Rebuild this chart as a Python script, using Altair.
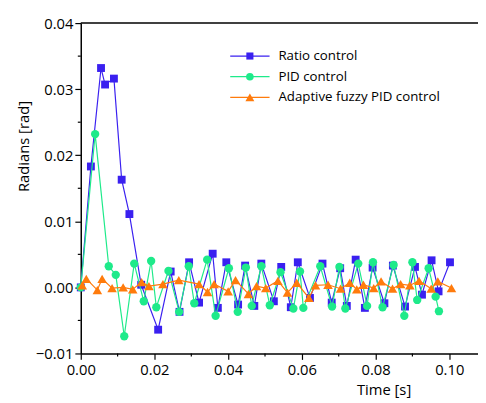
import altair as alt
import pandas as pd

# ---- data ----
ratio_t = [0.0, 0.00275, 0.0055, 0.0066, 0.0090, 0.0111, 0.0132, 0.0164, 0.0210, 0.0244,
           0.0268, 0.0294, 0.0321, 0.0358, 0.0372, 0.0395, 0.0427, 0.0446, 0.0471, 0.0490,
           0.0524, 0.0544, 0.0570, 0.0589, 0.0622, 0.0656, 0.0681, 0.0704, 0.0722, 0.0746,
           0.0771, 0.0792, 0.0824, 0.0847, 0.0880, 0.0907, 0.0926, 0.0952, 0.0971, 0.1002]
ratio_v = [0.0, 0.0183, 0.0332, 0.0307, 0.0316, 0.0163, 0.0111, 0.0004, -0.0064, 0.0024,
           -0.0037, 0.0038, -0.0023, 0.0051, -0.0031, 0.0038, -0.0026, 0.0033, -0.0028, 0.0036,
           -0.0021, 0.0031, -0.0030, 0.0038, -0.0016, 0.0036, -0.0023, 0.0029, -0.0028, 0.0042,
           -0.0031, 0.0030, -0.0024, 0.0033, -0.0029, 0.0031, -0.0011, 0.0041, -0.0006, 0.0038]

pid_t = [0.0, 0.0039, 0.0076, 0.0095, 0.0118, 0.0145, 0.0171, 0.0191, 0.0205, 0.0238,
         0.0267, 0.0293, 0.0308, 0.0343, 0.0366, 0.0402, 0.0426, 0.0448, 0.0464, 0.0490,
         0.0513, 0.0542, 0.0577, 0.0595, 0.0604, 0.0650, 0.0682, 0.0702, 0.0718, 0.0753,
         0.0777, 0.0793, 0.0819, 0.0849, 0.0878, 0.0900, 0.0913, 0.0944, 0.0963, 0.0972]
pid_v = [0.0, 0.0232, 0.0032, 0.0019, -0.0074, 0.0036, -0.0021, 0.0040, -0.0030, 0.0025,
         -0.0037, 0.0032, -0.0024, 0.0042, -0.0043, 0.0029, -0.0037, 0.0030, -0.0028, 0.0032,
         -0.0027, 0.0023, -0.0032, 0.0024, -0.0031, 0.0032, -0.0029, 0.0031, -0.0032, 0.0036,
         -0.0028, 0.0038, -0.0030, 0.0034, -0.0043, 0.0038, -0.0019, 0.0029, -0.0014, -0.0036]

fuzzy_t = [0.0004, 0.0015, 0.0045, 0.0058, 0.0085, 0.0115, 0.0141, 0.0165, 0.0185, 0.0223,
           0.0266, 0.0321, 0.0344, 0.0362, 0.0400, 0.0420, 0.0455, 0.0477, 0.0502, 0.0535,
           0.0561, 0.0586, 0.0619, 0.0637, 0.0671, 0.0705, 0.0730, 0.0749, 0.0767, 0.0795,
           0.0815, 0.0846, 0.0868, 0.0893, 0.0918, 0.0951, 0.0969, 0.1006]
fuzzy_v = [0.0003, 0.0013, -0.0004, 0.0013, -0.0001, 0.0000, -0.0003, 0.0008, 0.0002, 0.0005,
           0.0011, 0.0005, -0.0007, 0.0005, -0.0006, 0.0011, -0.0010, 0.0002, -0.0001, 0.0010,
           -0.0008, 0.0007, -0.0016, 0.0003, 0.0004, -0.0002, 0.0007, -0.0003, 0.0004, -0.0001,
           0.0009, -0.0002, 0.0005, 0.0003, 0.0010, -0.0002, 0.0009, -0.0001]

series_names = ["Ratio control", "PID control", "Adaptive fuzzy PID control"]
series_colors = ["#3a20f0", "#1eea8a", "#ff7b0c"]
series_shapes = ["square", "circle", "triangle-up"]
series_sizes = [64, 72, 95]

x_major = [0.0, 0.02, 0.04, 0.06, 0.08, 0.10]
x_minor = [0.01, 0.03, 0.05, 0.07, 0.09]
y_major = [-0.01, 0.0, 0.01, 0.02, 0.03, 0.04]
y_minor = [-0.005, 0.005, 0.015, 0.025, 0.035]

W, H = 404, 336
FONT = "Open Sans"

x_scale = alt.Scale(domain=[0, 0.1078], nice=False, zero=False)
y_scale = alt.Scale(domain=[-0.01, 0.04], nice=False, zero=False)

x_axis = alt.Axis(values=x_major, format=".2f", tickSize=6, tickWidth=1.2, tickColor="black",
                  domainColor="black", domainWidth=1.5, labelPadding=3, labelFontSize=15,
                  labelColor="black", grid=False, title="Time [s]", titleFontSize=15,
                  titleFontWeight="normal", titleColor="black", titleAnchor="start",
                  titleX=308, titleY=42, titleAlign="center", titleBaseline="alphabetic",
                  labelFlush=False)
y_axis = alt.Axis(values=y_major, format=".2f", tickSize=6, tickWidth=1.2, tickColor="black",
                  domainColor="black", domainWidth=1.5, labelPadding=2, labelFontSize=15,
                  labelColor="black", grid=False, title="Radians [rad]", titleFontSize=15,
                  titleFontWeight="normal", titleColor="black", titleAnchor="start",
                  titleX=-50, titleY=125, titleAlign="center", titleAngle=270,
                  titleBaseline="bottom", labelFlush=False)

X = alt.X("t:Q", scale=x_scale, axis=x_axis)
Y = alt.Y("v:Q", scale=y_scale, axis=y_axis)

layers = []
all_t = [ratio_t, pid_t, fuzzy_t]
all_v = [ratio_v, pid_v, fuzzy_v]
for k in range(3):
    df = pd.DataFrame({"t": all_t[k], "v": all_v[k], "i": list(range(len(all_t[k])))})
    base = alt.Chart(df)
    layers.append(base.mark_line(color=series_colors[k], strokeWidth=1.2).encode(
        x=X, y=Y, order="i:Q"))
    layers.append(base.mark_point(shape=series_shapes[k], filled=True, opacity=1,
                                  color=series_colors[k], size=series_sizes[k]).encode(x=X, y=Y))

# minor ticks
xm = pd.DataFrame({"t": x_minor})
layers.append(alt.Chart(xm).mark_rule(color="black", strokeWidth=1.2).encode(
    x=X, y=alt.value(H), y2=alt.value(H + 3)))
ym = pd.DataFrame({"v": y_minor})
layers.append(alt.Chart(ym).mark_rule(color="black", strokeWidth=1.2).encode(
    y=Y, x=alt.value(-3), x2=alt.value(0)))

# top frame line
layers.append(alt.Chart(pd.DataFrame({"a": [0]})).mark_rule(color="black", strokeWidth=1.5).encode(
    x=alt.value(0), x2=alt.value(W), y=alt.value(0)))

# legend
row_y = [33.5, 54.5, 75.5]
for k in range(3):
    ld = pd.DataFrame({"name": [series_names[k]]})
    lb = alt.Chart(ld)
    layers.append(lb.mark_rule(color=series_colors[k], strokeWidth=1.2).encode(
        x=alt.value(152), x2=alt.value(192), y=alt.value(row_y[k])))
    layers.append(lb.mark_point(shape=series_shapes[k], filled=True, opacity=1,
                                color=series_colors[k], size=series_sizes[k] - 12).encode(
        x=alt.value(172), y=alt.value(row_y[k])))
    layers.append(lb.mark_text(align="left", baseline="middle", fontSize=13.5, font=FONT,
                               color="black").encode(
        x=alt.value(201), y=alt.value(row_y[k]), text="name:N"))

chart = alt.layer(*layers).properties(
    width=W, height=H,
    padding={"left": 74, "top": 12, "right": 0, "bottom": 46},
    autosize=alt.AutoSizeParams(type="none"),
).configure_view(stroke=None).configure_axis(labelFont=FONT, titleFont=FONT)

chart.save("out.html", embed_options={"renderer": "svg", "actions": False})
